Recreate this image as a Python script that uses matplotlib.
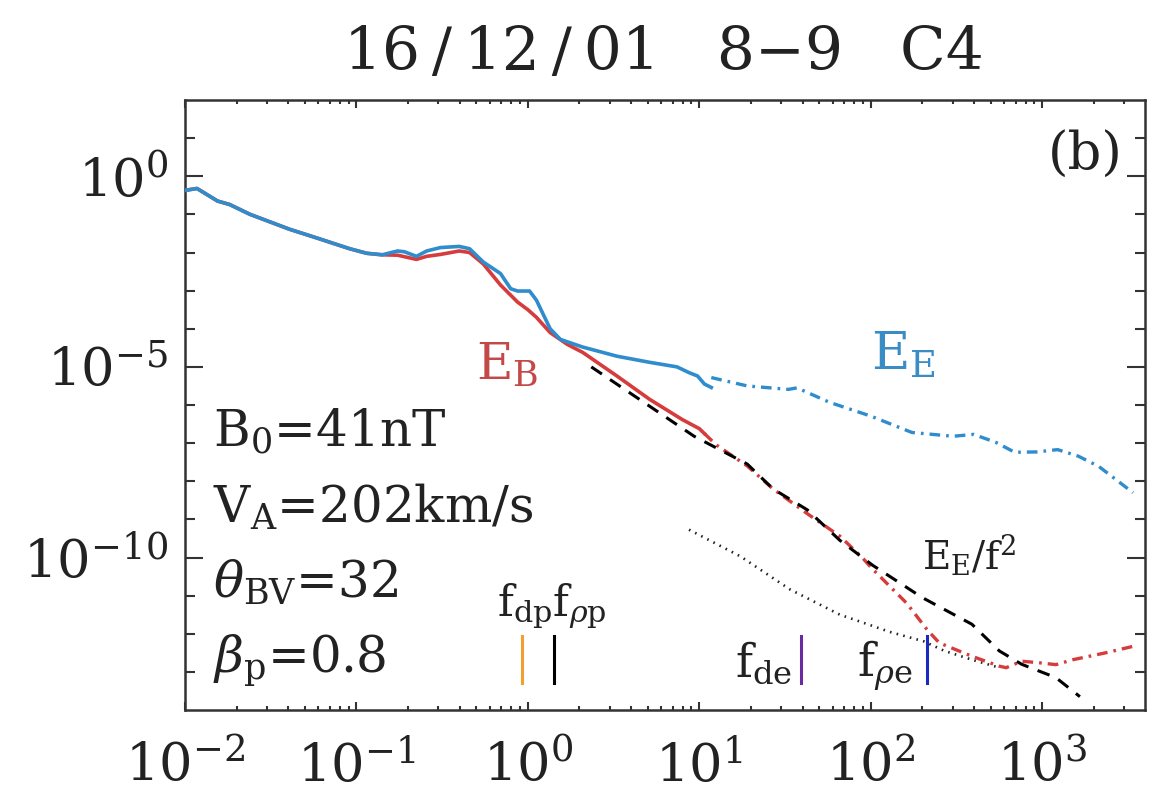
import numpy as np
import matplotlib
matplotlib.use("Agg")
import matplotlib.pyplot as plt
from matplotlib.ticker import FixedLocator, FuncFormatter, NullFormatter

plt.rcParams['font.family'] = ['DejaVu Serif']
plt.rcParams['mathtext.fontset'] = 'dejavuserif'

# ---- data (log10 of frequency [Hz] and of power) ----
common_logf = [-2.0, -1.93, -1.81, -1.74, -1.62, -1.39, -1.23, -1.04, -0.94, -0.85]
common_logp = [-0.37, -0.32, -0.65, -0.74, -1.0, -1.39, -1.62, -1.90, -2.02, -2.06]

eb_logf = [-0.76, -0.65, -0.59, -0.51, -0.40, -0.34, -0.26, -0.16, -0.06, 0.0, 0.05,
           0.13, 0.23, 0.32, 0.52, 0.71, 0.90, 1.0, 1.03]
eb_logp = [-2.07, -2.18, -2.10, -2.05, -1.96, -2.0, -2.3, -2.85, -3.3, -3.5, -3.7,
           -4.1, -4.41, -4.62, -5.24, -5.85, -6.38, -6.62, -6.75]

ee_logf = [-0.76, -0.72, -0.65, -0.59, -0.51, -0.40, -0.34, -0.26, -0.16, -0.10, -0.06,
           0.01, 0.05, 0.13, 0.19, 0.32, 0.52, 0.71, 0.87, 0.94, 0.99, 1.03, 1.07]
ee_logp = [-1.96, -1.98, -2.10, -1.96, -1.87, -1.84, -1.90, -2.25, -2.55, -2.95, -3.01,
           -3.01, -3.25, -4.0, -4.28, -4.48, -4.72, -4.88, -5.0, -5.15, -5.24, -5.45, -5.54]

ebhf_logf = [1.03, 1.10, 1.28, 1.43, 1.63, 1.82, 1.95, 2.01, 2.11, 2.21, 2.33, 2.40,
             2.59, 2.75, 2.79, 2.88, 2.98, 3.08, 3.18, 3.37, 3.53]
ebhf_logp = [-6.75, -7.05, -7.6, -8.2, -8.85, -9.44, -10.0, -10.3, -10.75, -11.2, -11.9,
             -12.24, -12.59, -12.85, -12.89, -12.72, -12.76, -12.81, -12.68, -12.5, -12.33]

eehf_logf = [1.07, 1.28, 1.52, 1.57, 1.76, 2.0, 2.24, 2.48, 2.60, 2.73, 2.84, 2.97,
             3.09, 3.21, 3.33, 3.53]
eehf_logp = [-5.28, -5.50, -5.59, -5.55, -5.93, -6.29, -6.72, -6.82, -6.77, -6.98, -7.24,
             -7.23, -7.17, -7.34, -7.61, -8.3]

eef2_logf = [0.37, 0.68, 0.97, 1.28, 1.43, 1.63, 1.82, 2.01, 2.14, 2.30, 2.59, 2.75,
             2.88, 3.08, 3.22]
eef2_logp = [-5.0, -5.94, -6.82, -7.55, -8.2, -8.75, -9.55, -10.2, -10.58, -11.05,
             -11.75, -12.45, -12.8, -13.15, -13.65]

noise_logf = [0.94, 1.24, 1.53, 1.82, 1.95, 2.11, 2.31, 2.43, 2.59, 2.72, 2.75]
noise_logp = [-9.27, -9.97, -10.84, -11.5, -11.7, -11.95, -12.2, -12.45, -12.68, -12.85, -12.89]

# characteristic frequencies (Hz)
f_dp, f_rhop, f_de, f_rhoe = 0.93, 1.42, 39.0, 212.0
marker_bottom, marker_top = 10**-13.28, 10**-12.07

params = [r'B$_\mathregular{0}$=41nT', r'V$_\mathregular{A}$=202km/s',
          r'$\theta_\mathregular{BV}$=32', r'$\beta_\mathregular{p}$=0.8']
ts = '\u2009'
title = '16' + ts + '/' + ts + '12' + ts + '/' + ts + '01   8\u22129   C4'

RED = '#d63c3c'
BLUE = '#2f8ccd'

def pw(a):
    return 10.0 ** np.asarray(a)

fig = plt.figure(figsize=(11.62, 8.06), dpi=100)
ax = fig.add_axes([0.1592, 0.1191, 0.8262, 0.7568])

# red (B) solid & blue (E) solid
ax.plot(pw(common_logf + eb_logf), pw(common_logp + eb_logp), color=RED, lw=2.6, zorder=3)
ax.plot(pw(common_logf + ee_logf), pw(common_logp + ee_logp), color=BLUE, lw=2.6, zorder=4)
# high-frequency dash-dot
ax.plot(pw(ebhf_logf), pw(ebhf_logp), color=RED, lw=2.4, dashes=(3.2, 1.8, 0.8, 1.8), zorder=3)
ax.plot(pw(eehf_logf), pw(eehf_logp), color=BLUE, lw=2.4, dashes=(3.2, 1.8, 0.8, 1.8), zorder=3)
# E_E/f^2 dashed
ax.plot(pw(eef2_logf), pw(eef2_logp), color='black', lw=2.2, dashes=(4.2, 3.2), zorder=5)
# noise dotted
ax.plot(pw(noise_logf), pw(noise_logp), color='#222222', lw=1.9, dashes=(0.6, 2.0), zorder=2)

# vertical markers
for fv, c in [(f_dp, '#f0a030'), (f_rhop, 'black'), (f_de, '#6a2aa0'), (f_rhoe, '#1a2ac0')]:
    ax.plot([fv, fv], [marker_bottom, marker_top], color=c, lw=2.2, zorder=6)

ax.set_xscale('log')
ax.set_yscale('log')
ax.set_xlim(1e-2, 10**3.6)
ax.set_ylim(1e-14, 1e2)

# ticks
ax.xaxis.set_major_locator(FixedLocator([10.0**k for k in range(-2, 4)]))
ax.xaxis.set_minor_locator(FixedLocator([m * 10.0**k for k in range(-2, 4) for m in range(2, 10)]))
ax.yaxis.set_major_locator(FixedLocator([1e0, 1e-5, 1e-10]))
ax.yaxis.set_minor_locator(FixedLocator([10.0**k for k in range(-13, 2) if k % 5 != 0]))
fmt = FuncFormatter(lambda v, p: r'$\mathregular{10^{%d}}$' % int(round(np.log10(v))))
ax.xaxis.set_major_formatter(fmt)
ax.yaxis.set_major_formatter(fmt)
ax.xaxis.set_minor_formatter(NullFormatter())
ax.yaxis.set_minor_formatter(NullFormatter())
ax.tick_params(axis='both', which='both', direction='in', top=True, right=True,
               width=1.5, colors='#333333', labelcolor='#222222', labelsize=38)
ax.tick_params(axis='x', which='major', length=6, pad=22)
ax.tick_params(axis='x', which='minor', length=3)
ax.tick_params(axis='y', which='major', length=13, pad=12)
ax.tick_params(axis='y', which='minor', length=7)
for s in ax.spines.values():
    s.set_linewidth(1.8)
    s.set_color('#333333')

# labels
ax.text(10**-0.30, 10**-5.33, r'E$_\mathregular{B}$', color='#c44848', fontsize=36,
        ha='left', va='baseline')
ax.text(10**2.0, 10**-5.07, r'E$_\mathregular{E}$', color='#3a8cc4', fontsize=38,
        ha='left', va='baseline')
ax.text(10**2.30, 10**-10.3, r'E$_\mathregular{E}$/f$^\mathregular{2}$', color='#222222',
        fontsize=28, ha='left', va='baseline')
ax.text(10**-0.18, 10**-11.55, r'f$_\mathregular{dp}$f$_{\rho \mathregular{p}}$', color='#222222',
        fontsize=31, ha='left', va='baseline')
ax.text(10**1.21, 10**-13.12, r'f$_\mathregular{de}$', color='#222222', fontsize=33,
        ha='left', va='baseline')
ax.text(10**1.92, 10**-13.12, r'f$_{\rho \mathregular{e}}$', color='#222222', fontsize=33,
        ha='left', va='baseline')
ax.text(0.977, 0.951, '(b)', transform=ax.transAxes, fontsize=38, color='#222222',
        ha='right', va='top')
for i, t in enumerate(params):
    ax.text(0.029, 0.431 - i * 0.123, t, transform=ax.transAxes, fontsize=36,
            color='#222222', ha='left', va='baseline')

fig.text(0.571, 0.913, title, fontsize=43, color='#222222', ha='center', va='baseline')

fig.savefig('out.png', dpi=100)
